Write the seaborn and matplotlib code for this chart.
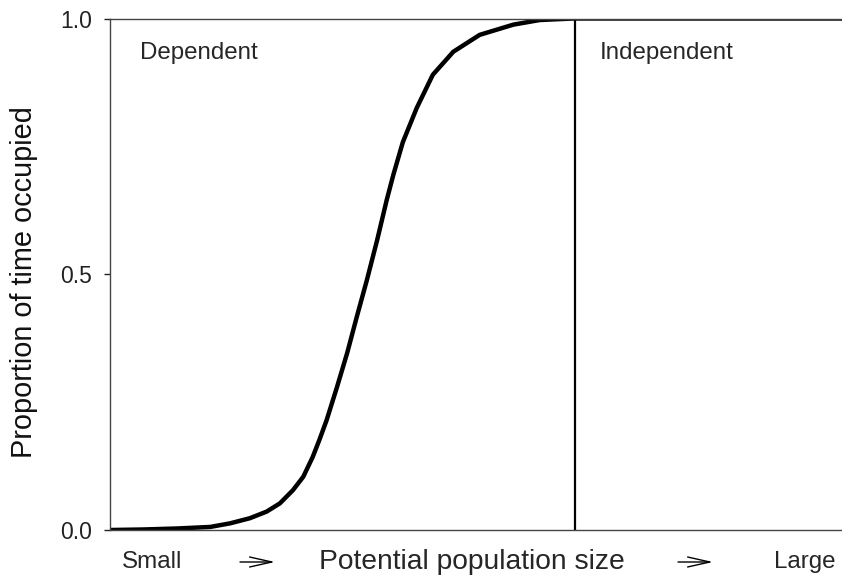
import numpy as np
import pandas as pd
import matplotlib
matplotlib.use("Agg")
import matplotlib.pyplot as plt
import seaborn as sns

# curve (x in arbitrary units 0-100)
pop_size = [0, 4.5, 9.2, 13.7, 16.4, 19.1, 21.4, 23.2, 25.0, 26.4, 27.7,
            28.6, 29.6, 31.0, 32.4, 33.7, 35.1, 36.5, 37.8, 38.7, 40.0,
            41.9, 44.1, 46.9, 50.5, 55.1, 58.7, 63.3, 100]
prop_occupied = [0, 0.001, 0.003, 0.006, 0.013, 0.023, 0.036, 0.052, 0.078,
                 0.104, 0.143, 0.176, 0.215, 0.279, 0.346, 0.416, 0.489,
                 0.567, 0.645, 0.694, 0.758, 0.825, 0.890, 0.935, 0.968,
                 0.988, 0.997, 1.0, 1.0]
threshold = 63.5
y_ticks = [0.0, 0.5, 1.0]
region_labels = ["Dependent", "Independent"]

sns.set_style("white")
plt.rcParams["font.family"] = ["Liberation Sans", "DejaVu Sans"]

df = pd.DataFrame({"x": pop_size, "y": prop_occupied})

fig = plt.figure(figsize=(8.42, 5.8), dpi=100)
ax = fig.add_axes([110 / 842, 50 / 580, 732 / 842, 511.5 / 580])

sns.lineplot(data=df, x="x", y="y", ax=ax, color="black", linewidth=3.2,
             solid_joinstyle="round", solid_capstyle="butt")
ax.axvline(threshold, color="black", linewidth=1.6)

ax.set_xlim(0, 100)
ax.set_ylim(0, 1.0)
ax.set_xticks([])
ax.set_yticks(y_ticks)
ax.set_yticklabels([f"{t:.1f}" for t in y_ticks])
ax.tick_params(axis="y", direction="out", length=4, width=1, pad=9,
               labelsize=16.5, colors="#222222", left=True)

for side in ["left", "top", "bottom"]:
    ax.spines[side].set_color("#444444")
    ax.spines[side].set_linewidth(1.0)
ax.spines["right"].set_visible(False)

ax.set_xlabel("")
ax.set_ylabel("Proportion of time occupied", fontsize=20.8, color="#111111")
ax.yaxis.set_label_coords(-0.098, 0.484)

ax.text(4.1, 0.932, region_labels[0], fontsize=17.4, va="center", ha="left")
ax.text(66.9, 0.932, region_labels[1], fontsize=17.4, va="center", ha="left")

# labels under the x axis
fy = 18 / 580
fig.text(152 / 842, fy, "Small", fontsize=17.4, ha="center", va="center")
fig.text(472 / 842, fy, "Potential population size", fontsize=20.3,
         ha="center", va="center")
fig.text(805 / 842, fy, "Large", fontsize=17.4, ha="center", va="center")
for x0, x1 in [(240, 275), (678, 713)]:
    fig.add_artist(matplotlib.patches.FancyArrowPatch(
        (x0 / 842, fy), (x1 / 842, fy), transform=fig.transFigure,
        arrowstyle="->,head_length=16,head_width=3.6", color="black",
        linewidth=1.0, shrinkA=0, shrinkB=0))

fig.savefig("out.png", dpi=100)
